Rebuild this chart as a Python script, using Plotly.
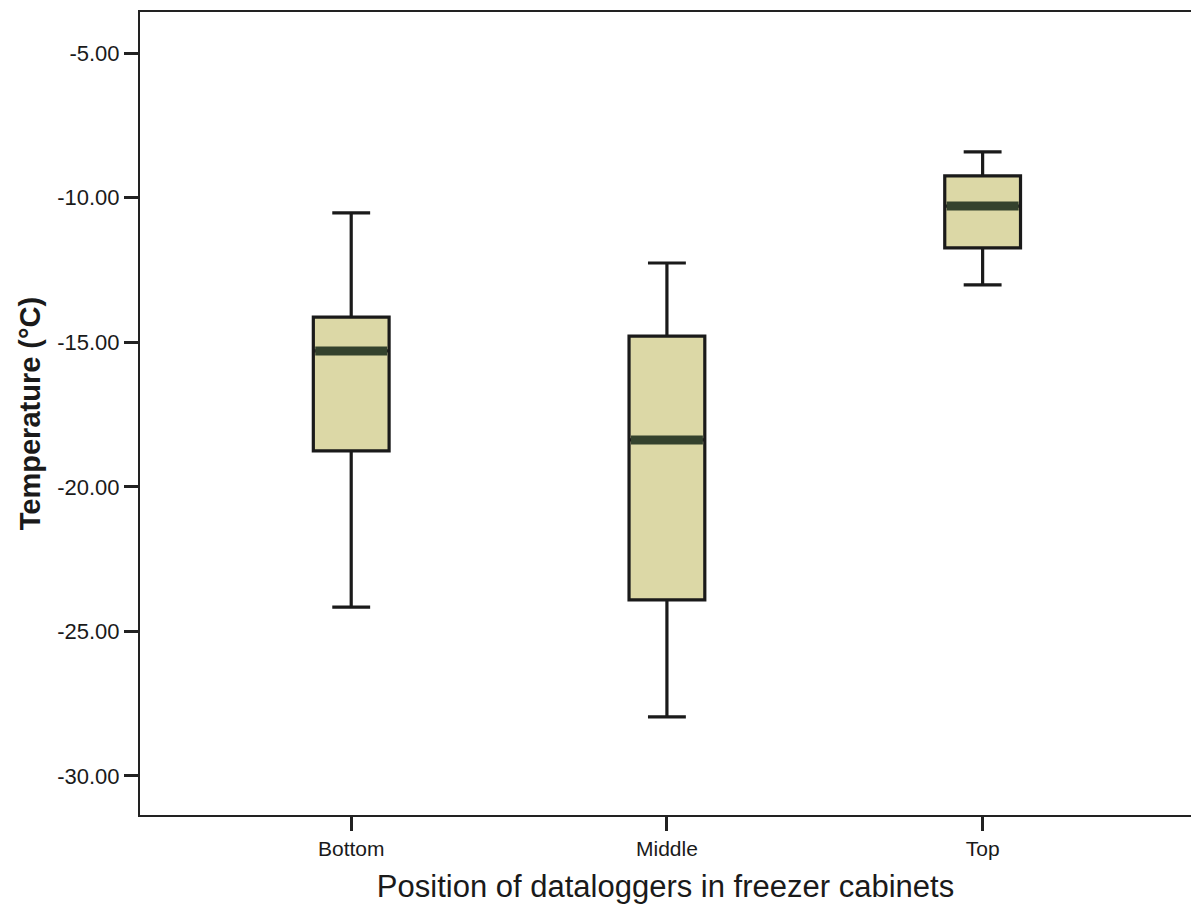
import plotly.graph_objects as go

categories = ["Bottom", "Middle", "Top"]
lower_whisker = [-24.16, -27.96, -13.02]
q1_vals = [-18.76, -23.91, -11.74]
median_vals = [-15.30, -18.38, -10.29]
q3_vals = [-14.13, -14.79, -9.25]
upper_whisker = [-10.53, -12.26, -8.42]
y_tick_vals = [-5, -10, -15, -20, -25, -30]

xpos = list(range(len(categories)))
box_w = 0.24

fig = go.Figure()
fig.add_trace(go.Box(
    x=xpos, q1=q1_vals, median=median_vals, q3=q3_vals,
    lowerfence=lower_whisker, upperfence=upper_whisker,
    width=box_w, whiskerwidth=0.5,
    fillcolor="#dcd8a6",
    line=dict(color="#1a1a1a", width=3.2),
    showlegend=False, hoverinfo="skip",
))

mx, my = [], []
for i, m in zip(xpos, median_vals):
    mx += [i - box_w / 2 + 0.006, i + box_w / 2 - 0.006, None]
    my += [m, m, None]
fig.add_trace(go.Scatter(x=mx, y=my, mode="lines",
                         line=dict(color="#34422d", width=9),
                         showlegend=False, hoverinfo="skip"))

fig.update_layout(
    width=1191, height=905,
    margin=dict(l=140, r=0, t=12, b=90),
    paper_bgcolor="white", plot_bgcolor="white",
    font=dict(family="Liberation Sans, Arial, sans-serif", color="#1a1a1a"),
)
fig.update_xaxes(
    range=[-0.669, 2.66], tickvals=xpos, ticktext=categories,
    showgrid=False, zeroline=False,
    showline=True, linecolor="#222", linewidth=2, mirror=True,
    ticks="outside", ticklen=14, tickwidth=2.5, tickcolor="#222",
    tickfont=dict(size=21),
    title=dict(text="Position of dataloggers in freezer cabinets",
               font=dict(size=31), standoff=16),
)
fig.update_yaxes(
    range=[-31.35, -3.58], tickvals=y_tick_vals,
    ticktext=[f"{v:.2f}" for v in y_tick_vals],
    showgrid=False, zeroline=False,
    showline=True, linecolor="#222", linewidth=2, mirror=False,
    ticks="outside", ticklen=14, tickwidth=2.5, tickcolor="#222",
    tickfont=dict(size=22),
    title=dict(text="<b>Temperature (°C)</b>", font=dict(size=29), standoff=8),
)

fig.write_html("out.html")
